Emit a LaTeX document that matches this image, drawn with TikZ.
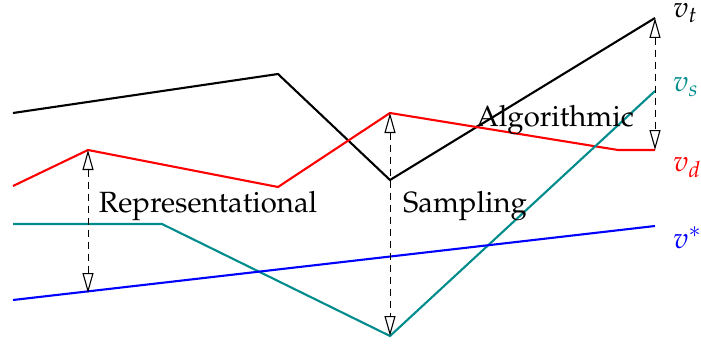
\documentclass[tikz,border=0pt]{standalone}
\usepackage[T1]{fontenc}
\usepackage{mathpazo}
\usetikzlibrary{arrows.meta}

\definecolor{tealline}{RGB}{0,140,140}

\tikzset{
  curve/.style={line width=2.1pt, line join=miter},
  gap/.style={line width=1pt, dash pattern=on 7pt off 5pt,
    {Triangle[open,length=20pt,width=11pt,line width=1.1pt]}-{Triangle[open,length=20pt,width=11pt,line width=1.1pt]}},
  lbl/.style={font=\fontsize{29.3}{34}\selectfont, inner sep=0pt, anchor=base},
  vlabel/.style={font=\fontsize{29.3}{34}\selectfont, inner sep=0pt, anchor=base west}
}

\begin{document}
\begin{tikzpicture}[x=1pt,y=-1pt]
  \useasboundingbox (0,0) rectangle (701,345);

  % anchor points on the curves
  \coordinate (r1) at (88,150);
  \coordinate (b1) at (88,293);
  \coordinate (r2) at (390,113);
  \coordinate (s2) at (390,336);
  \coordinate (t3) at (655,18);
  \coordinate (d3) at (655,150);

  % the four value curves
  \draw[curve, black] (13,113) -- (278,74) -- (390,180) -- (t3);
  \draw[curve, red] (13,186) -- (r1) -- (278,187) -- (r2) -- (618,150) -- (d3);
  \draw[curve, tealline] (13,224) -- (162,224) -- (s2) -- (655,91);
  \draw[curve, blue] (13,300) -- (655,226);

  % gaps between curves
  \draw[gap] (r1) -- (b1);
  \draw[gap] (r2) -- (s2);
  \draw[gap] (t3) -- (d3);

  % gap names
  \node[lbl] (rep) at (208,212) {Representational};
  \node[lbl] (samp) at (465,212) {Sampling};
  \node[lbl] (alg) at (555,126) {Algorithmic};

  % curve names
  \node[vlabel] (vt) at (673,18) {$v_t$};
  \node[vlabel, text=tealline] (vs) at (673,92) {$v_s$};
  \node[vlabel, text=red] (vd) at (673,171) {$v_d$};
  \node[vlabel, text=blue] (vstar) at (673,248) {$v^*$};
\end{tikzpicture}
\end{document}
